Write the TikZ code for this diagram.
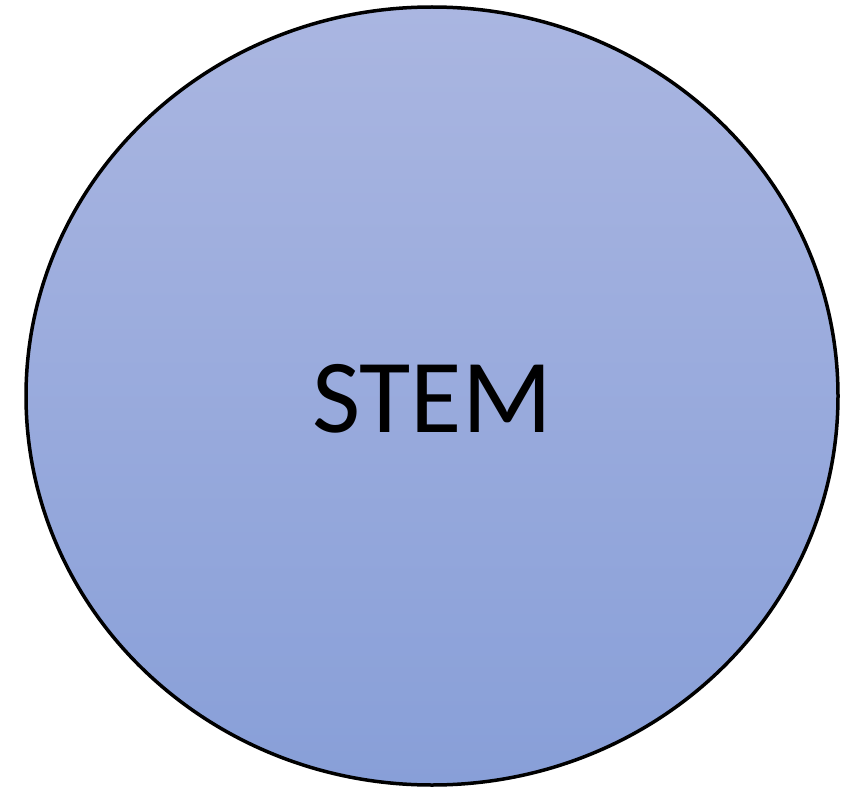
\documentclass[tikz,border=0pt]{standalone}
\usepackage{fontspec}
\setmainfont{Carlito}
\usetikzlibrary{shapes.geometric}
\definecolor{topblue}{RGB}{170,182,225}
\definecolor{botblue}{RGB}{136,159,216}
\tikzset{
  bigcircle/.style={ellipse, draw=black, line width=3.5pt, inner sep=0pt, outer sep=0pt,
    minimum width=812pt, minimum height=778pt, top color=topblue, bottom color=botblue},
  stemtext/.style={font=\fontsize{105}{110}\selectfont, text=black}
}
\begin{document}
\begin{tikzpicture}[x=1pt,y=-1pt]
\useasboundingbox (0,0) rectangle (851,789);
\node[bigcircle] (stem) at (432,396) {};
\node[stemtext] (label) at (stem.center) [yshift=-3pt] {STEM};
\end{tikzpicture}
\end{document}
